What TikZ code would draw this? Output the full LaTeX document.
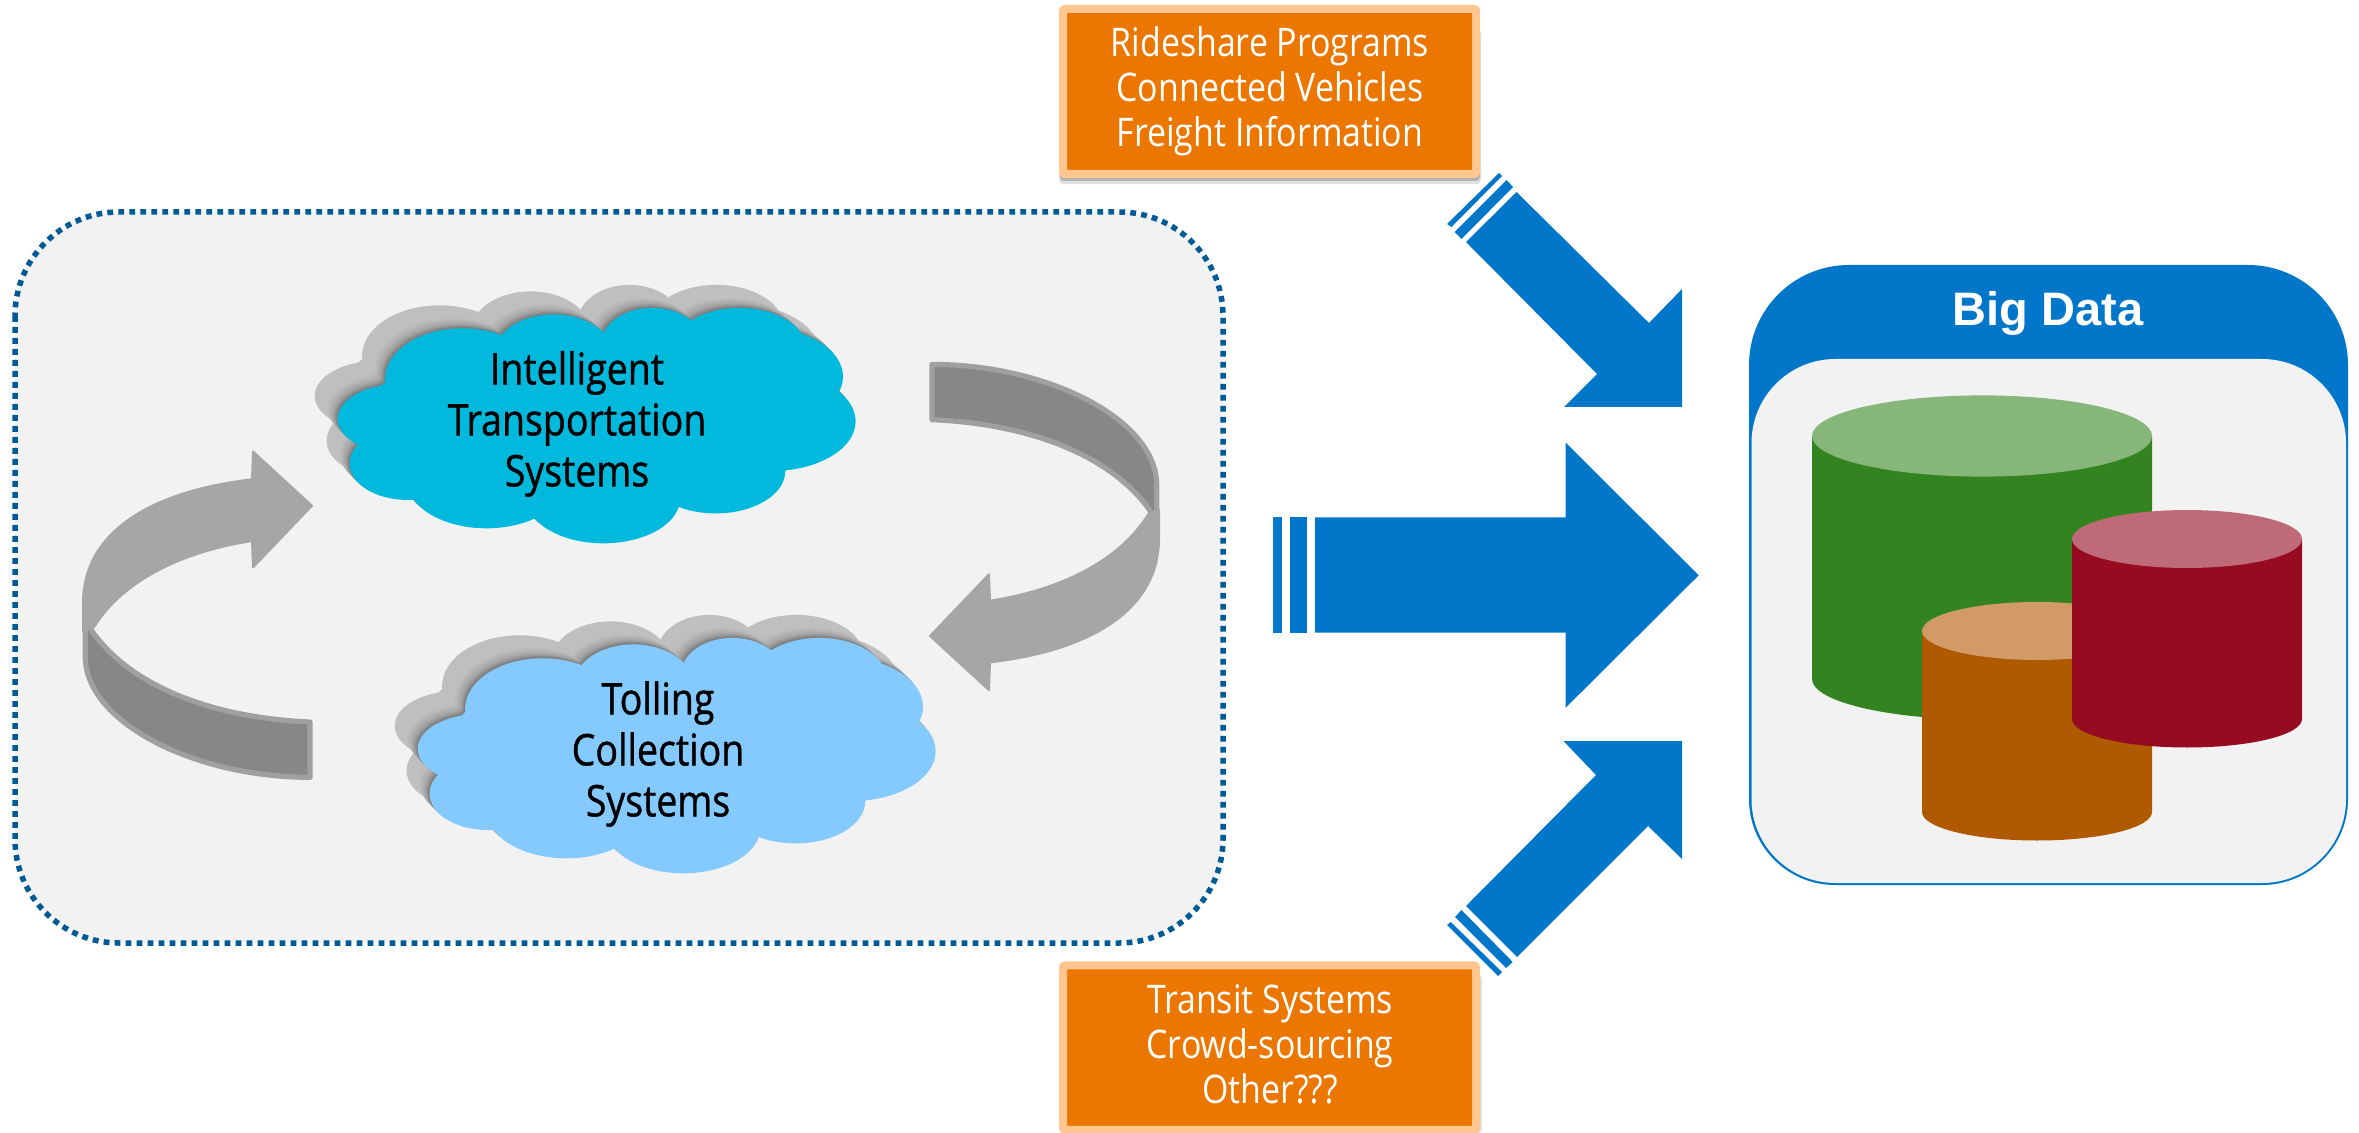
\documentclass[tikz,border=0pt]{standalone}
\usepackage{fontspec}
\setmainfont{Open Sans}[FakeStretch=0.86]
\newfontfamily\boldcloud{Open Sans}[FakeStretch=0.86,FakeBold=0.9]
\newfontfamily\titlefont{Liberation Sans}
\definecolor{bluearrow}{HTML}{0277C9}
\definecolor{panelgray}{HTML}{F2F2F2}
\definecolor{dotblue}{HTML}{005A96}
\definecolor{orangefill}{HTML}{EB7600}
\definecolor{orangeedge}{HTML}{FFC78F}
\definecolor{cloudcyan}{HTML}{00B9DD}
\definecolor{cloudsky}{HTML}{85CAFF}
\definecolor{arrowlight}{HTML}{A6A6A6}
\definecolor{arrowdark}{HTML}{878787}
\definecolor{arrowedge}{HTML}{A0A0A0}
\tikzset{
  orangebox/.style={rectangle,fill=orangefill,draw=orangeedge,line width=4pt,rounded corners=1pt,
    minimum width=206.5pt,minimum height=82.5pt,inner sep=0pt},
  boxtext/.style={text=white,align=center,inner sep=0pt,font=\fontsize{19.7}{22.5}\selectfont},
  cloudtext/.style={text=black,align=center,inner sep=0pt,font=\boldcloud\fontsize{21.8}{25.5}\selectfont},
  bigarrow/.style={fill=bluearrow},
}
\newcommand{\cloudpath}{
  (462.6,379) ellipse [x radius=77.5,y radius=50.7]
  (553.6,354.2) ellipse [x radius=59.3,y radius=39.8]
  (652.4,344.2) ellipse [x radius=51.4,y radius=36.3]
  (739.4,349.2) ellipse [x radius=67.2,y radius=41.3]
  (759.2,376.6) ellipse [x radius=83.8,y radius=49.8]
  (771,421.3) ellipse [x radius=84.6,y radius=49.8]
  (715.7,471.1) ellipse [x radius=69.6,y radius=42.3]
  (603.4,498.5) ellipse [x radius=76.7,y radius=44.8]
  (486.4,481) ellipse [x radius=79,y radius=47.3]
  (407.3,463.6) ellipse [x radius=57.7,y radius=36.3]
  (399.4,418.9) ellipse [x radius=61.7,y radius=34.8]
  (577.3,418.9) ellipse [x radius=213,y radius=85]
}
\newcommand{\fullcloud}[1]{
  \fill[fill=black!25,shift={(-23,-23)}] \cloudpath;
  \fill[fill=black!27,shift={(-10,-10)}] \cloudpath;
  \fill[fill=black!30,shift={(-8,-8)}] \cloudpath;
  \fill[fill=black!34,shift={(-6,-6)}] \cloudpath;
  \fill[fill=black!39,shift={(-4,-4)}] \cloudpath;
  \fill[fill=black!45,shift={(-2.5,-2.5)}] \cloudpath;
  \fill[fill=black!50,shift={(-1.2,-1.2)}] \cloudpath;
  \fill[fill=#1] \cloudpath;
}
\newcommand{\turnarrow}{
  \filldraw[fill=arrowdark,draw=arrowedge,line width=2.6pt,line join=round]
    (85.3,626.7) -- (85.3,656.7)
    .. controls (85.3,721.7) and (193.3,777.3) .. (310,777.3)
    -- (310,722)
    .. controls (220,718.3) and (131.7,690) .. (90,628.3) -- cycle;
  \filldraw[fill=arrowlight,draw=arrowlight,line width=1pt,line join=round]
    (83,603.3) .. controls (83,526.7) and (160,490) .. (252,479.3)
    -- (253,451.5) -- (312,505.7) -- (253,567.5) -- (252,541)
    .. controls (183.3,551.7) and (123.3,580) .. (94,627.3)
    -- (83,632) -- cycle;
}
\begin{document}
\begin{tikzpicture}[x=0.5pt,y=-0.5pt]
\useasboundingbox (0,0) rectangle (2359,1133);
\fill[white] (0,0) rectangle (2359,1133);

% left panel
\draw[fill=panelgray,draw=dotblue,line width=2.75pt,dash pattern=on 2.9pt off 2.6pt,rounded corners=52pt]
  (15,212) rectangle (1223,943);

% clouds
\fullcloud{cloudcyan}
\begin{scope}[shift={(80,330)}]
  \fullcloud{cloudsky}
\end{scope}
\node[cloudtext] (its) at (577,424) {Intelligent\\Transportation\\Systems};
\node[cloudtext] (toll) at (658,754) {Tolling\\Collection\\Systems};

% curved grey arrows
\turnarrow
\begin{scope}[shift={(1242,1141.7)},xscale=-1,yscale=-1]
  \turnarrow
\end{scope}

% orange boxes
\fill[black!12,rounded corners=2pt] (1059,30) rectangle (1481,184);
\fill[black!30,rounded corners=2pt] (1060,30) rectangle (1480,181);
\fill[black!12,rounded corners=2pt] (1070,975) rectangle (1482,1133);
\node[orangebox] (top) at (1269.5,91.5) {};
\node[orangebox,minimum height=82.25pt] (bottom) at (1269.5,1047.7) {};
\node[boxtext] (toptext) at (1270,91) {Rideshare Programs\\Connected Vehicles\\Freight Information};
\node[boxtext] (bottomtext) at (1270,1044) {Transit Systems\\Crowd-sourcing\\Other???};

% blue arrows
\fill[bigarrow] (1516.5,192) -- (1649,323) -- (1682,289) -- (1682,407) -- (1564,407) -- (1597,374) -- (1466,242) -- cycle;
\fill[bigarrow] (1513,187) -- (1506.5,180) -- (1454.5,232) -- (1461.5,239) -- cycle;
\fill[bigarrow] (1502,176) -- (1499,173) -- (1447,224) -- (1451.5,227) -- cycle;

\fill[bigarrow] (1315,517.3) -- (1565.7,517.3) -- (1565.7,442.7) -- (1698.7,575.3) -- (1565.7,707.7) -- (1565.7,632.7) -- (1315,632.7) -- cycle;
\fill[bigarrow] (1290,517.3) rectangle (1307,632.7);
\fill[bigarrow] (1273.3,517.3) rectangle (1282,632.7);

\fill[bigarrow] (1466,906) -- (1596,775) -- (1563.4,741) -- (1682,741) -- (1682,859) -- (1648,826) -- (1517,957) -- cycle;
\fill[bigarrow] (1461.5,910) -- (1455,917) -- (1506,968) -- (1512.7,962) -- cycle;
\fill[bigarrow] (1450.7,922) -- (1447,925) -- (1498,976) -- (1502,972) -- cycle;

% Big Data panel
\fill[bluearrow] (1749,600) [rounded corners=50pt] -- (1749,265) -- (2348,265) -- (2348,600) [rounded corners=43pt] -- (2348,885) -- (1749,885) -- cycle;
\fill[panelgray,rounded corners=42pt] (1751.5,359) rectangle (2346,883);
\node[text=white,inner sep=0pt,anchor=base,font=\titlefont\bfseries\fontsize{23.5}{26}\selectfont] (title) at (2048,326) {Big Data};

% cylinders
\fill[fill={rgb,255:red,51;green,132;blue,32}] (1812,436) -- (1812,679) arc[start angle=180,end angle=360,x radius=170,y radius=-40.6] -- (2152,436) -- cycle;
\fill[fill={rgb,255:red,134;green,182;blue,122}] (1982,436) ellipse [x radius=170,y radius=40.6];
\fill[fill={rgb,255:red,175;green,89;blue,0}] (1922,631) -- (1922,812) arc[start angle=180,end angle=360,x radius=115,y radius=-28.5] -- (2152,631) -- cycle;
\fill[fill={rgb,255:red,209;green,154;blue,102}] (2037,631) ellipse [x radius=115,y radius=29];
\fill[fill={rgb,255:red,150;green,11;blue,34}] (2072,539) -- (2072,719) arc[start angle=180,end angle=360,x radius=115,y radius=-28.5] -- (2302,539) -- cycle;
\fill[fill={rgb,255:red,191;green,106;blue,121}] (2187,539) ellipse [x radius=115,y radius=29];
\end{tikzpicture}
\end{document}
